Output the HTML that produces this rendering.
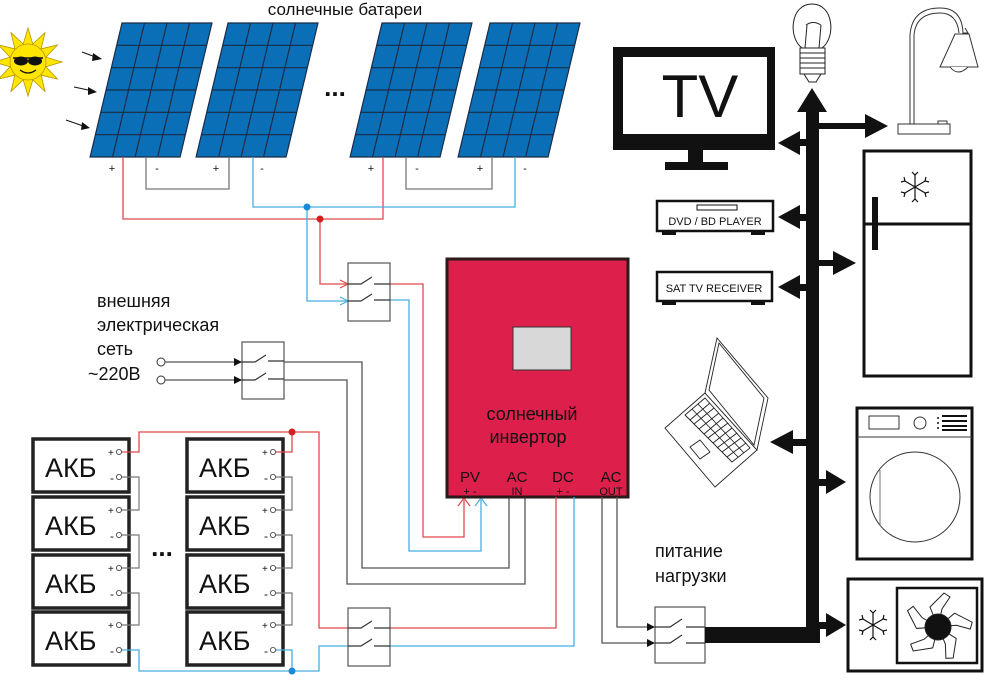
<!DOCTYPE html>
<html><head><meta charset="utf-8"><style>
html,body{margin:0;padding:0;background:#fff;}
svg{display:block;font-family:"Liberation Sans",sans-serif;}
</style></head><body>
<svg width="985" height="675" viewBox="0 0 985 675" xmlns="http://www.w3.org/2000/svg">
<defs>
<g id="panel">
 <rect x="0" y="0" width="90" height="134" fill="#0b6fb8" stroke="#1a2a44" stroke-width="1.2"/>
 <path d="M22.5 0V134M45 0V134M67.5 0V134M0 22.3H90M0 44.7H90M0 67H90M0 89.3H90M0 111.7H90" stroke="#1a2a44" stroke-width="1.2" fill="none"/>
</g>
<g id="akb">
 <rect x="0" y="0" width="96" height="53" fill="#fff" stroke="#222" stroke-width="3.5"/>
 <text x="12" y="38" font-size="27" fill="#111">АКБ</text>
 <text x="75" y="17" font-size="10" fill="#111">+</text>
 <text x="77" y="43" font-size="12" fill="#111">-</text>
 <circle cx="86" cy="13" r="2.6" fill="#fff" stroke="#333" stroke-width="0.8"/>
 <circle cx="86" cy="38" r="2.6" fill="#fff" stroke="#333" stroke-width="0.8"/>
</g>
<g id="flake" stroke="#111" stroke-width="1.2" fill="none">
 <path d="M0 -13V13M-11 -6.5L11 6.5M-11 6.5L11 -6.5"/>
 <path d="M-3 -15L0 -12L3 -15M-3 15L0 12L3 15M-14 -5L-10 -6L-11 -10M14 5L10 6L11 10M-14 5L-10 6L-11 10M14 -5L10 -6L11 -10"/>
</g>
</defs>

<!-- sun -->
<g transform="translate(28,62)">
 <g fill="#FFE600" stroke="#B89500" stroke-width="0.8">
  <polygon points="-6,-14 6,-14 0,-34"/>
  <polygon points="-6,-14 6,-14 0,-34" transform="rotate(30)"/>
  <polygon points="-6,-14 6,-14 0,-34" transform="rotate(60)"/>
  <polygon points="-6,-14 6,-14 0,-34" transform="rotate(90)"/>
  <polygon points="-6,-14 6,-14 0,-34" transform="rotate(120)"/>
  <polygon points="-6,-14 6,-14 0,-34" transform="rotate(150)"/>
  <polygon points="-6,-14 6,-14 0,-34" transform="rotate(180)"/>
  <polygon points="-6,-14 6,-14 0,-34" transform="rotate(210)"/>
  <polygon points="-6,-14 6,-14 0,-34" transform="rotate(240)"/>
  <polygon points="-6,-14 6,-14 0,-34" transform="rotate(270)"/>
  <polygon points="-6,-14 6,-14 0,-34" transform="rotate(300)"/>
  <polygon points="-6,-14 6,-14 0,-34" transform="rotate(330)"/>
  <circle r="18"/>
 </g>
 <path d="M-15 -4H15" stroke="#111" stroke-width="1.5"/>
 <ellipse cx="-7" cy="-1" rx="7" ry="4.5" fill="#111"/>
 <ellipse cx="7" cy="-1" rx="7" ry="4.5" fill="#111"/>
 <path d="M-8 8Q0 14 8 8" stroke="#111" stroke-width="1.3" fill="none"/>
</g>
<g stroke="#111" stroke-width="1">
 <path d="M82 52L98 58M74 87L93 91M66 120L86 127"/>
</g>
<g fill="#111">
 <polygon points="102,59 93,53 92,61"/>
 <polygon points="97,92 88,87 88,95"/>
 <polygon points="90,128 82,122 81,130"/>
</g>

<!-- panels -->
<use href="#panel" transform="translate(122,23) skewX(-13.4)"/>
<use href="#panel" transform="translate(228,23) skewX(-13.4)"/>
<use href="#panel" transform="translate(382,23) skewX(-13.4)"/>
<use href="#panel" transform="translate(490,23) skewX(-13.4)"/>
<text x="345" y="15" font-size="17" text-anchor="middle" fill="#111">солнечные батареи</text>
<text x="335" y="96" font-size="26" font-weight="bold" text-anchor="middle" fill="#111">...</text>
<g font-size="11" fill="#111" text-anchor="middle">
 <text x="112" y="172">+</text><text x="157" y="172">-</text>
 <text x="216" y="172">+</text><text x="262" y="172">-</text>
 <text x="371" y="172">+</text><text x="417" y="172">-</text>
 <text x="480" y="172">+</text><text x="525" y="172">-</text>
</g>
<g fill="none" stroke-width="1.3">
 <path d="M146 157V189H229V157M406 157V189H492V157" stroke="#777"/>
 <path d="M123 157V219H383V157" stroke="#e0484a"/>
 <path d="M253 157V207H515V157" stroke="#48aee0"/>
 <path d="M320 219V284H348M390 284H423V537H464V500" stroke="#e0484a"/>
 <path d="M307 207V301H348M390 300H409V551H481V500" stroke="#48aee0"/>
</g>
<circle cx="307" cy="207" r="3.5" fill="#1a8ad8"/>
<circle cx="320" cy="219" r="3.5" fill="#d42020"/>
<path d="M340 280L348 284L340 288" stroke="#e0484a" fill="none" stroke-width="1.2"/>
<path d="M340 297L348 301L340 305" stroke="#48aee0" fill="none" stroke-width="1.2"/>
<path d="M458 506L464 498L470 506" stroke="#e0484a" fill="none" stroke-width="1.2"/>
<path d="M475 506L481 498L487 506" stroke="#48aee0" fill="none" stroke-width="1.2"/>
<!-- switch 1 -->
<rect x="348" y="263" width="42" height="58" fill="#fff" stroke="#555" stroke-width="1.2"/>
<path d="M348 284H361L372 277M374 284H390M348 301H361L372 294M374 300H390" stroke="#333" fill="none" stroke-width="1.2"/>

<!-- external grid -->
<g font-size="18" fill="#111">
 <text x="97" y="307">внешняя</text>
 <text x="97" y="331">электрическая</text>
 <text x="97" y="355">сеть</text>
 <text x="88" y="380">~220В</text>
</g>
<circle cx="161" cy="362" r="4" fill="#fff" stroke="#333"/>
<circle cx="161" cy="380" r="4" fill="#fff" stroke="#333"/>
<path d="M165 362H242M165 380H242" stroke="#555" stroke-width="1.3"/>
<polygon points="242,362 234,358 234,366" fill="#111"/>
<polygon points="242,380 234,376 234,384" fill="#111"/>
<rect x="242" y="342" width="42" height="57" fill="#fff" stroke="#555" stroke-width="1.2"/>
<path d="M242 362H255L266 355M268 361H284M242 380H255L266 373M268 379H284" stroke="#333" fill="none" stroke-width="1.2"/>
<path d="M284 362H362V568H509V497M284 380H347V584H525V497" stroke="#555" fill="none" stroke-width="1.3"/>

<!-- inverter -->
<rect x="447" y="259" width="181" height="238" fill="#dc1f4b" stroke="#2a1a1a" stroke-width="3"/>
<rect x="513" y="327" width="58" height="43" fill="#d8d8d8" stroke="#333" stroke-width="1"/>
<text x="532" y="420" font-size="18" fill="#111" text-anchor="middle">солнечный</text>
<text x="528" y="443" font-size="18" fill="#111" text-anchor="middle">инвертор</text>
<g fill="#111" text-anchor="middle">
 <text x="470" y="482" font-size="15">PV</text>
 <text x="470" y="495" font-size="11">+  -</text>
 <text x="517" y="482" font-size="15">AC</text>
 <text x="517" y="495" font-size="11">IN</text>
 <text x="563" y="482" font-size="15">DC</text>
 <text x="563" y="495" font-size="11">+  -</text>
 <text x="611" y="482" font-size="15">AC</text>
 <text x="611" y="495" font-size="11">OUT</text>
</g>

<!-- batteries -->
<use href="#akb" x="33" y="439"/><use href="#akb" x="33" y="497"/><use href="#akb" x="33" y="555"/><use href="#akb" x="33" y="612"/>
<use href="#akb" x="187" y="439"/><use href="#akb" x="187" y="497"/><use href="#akb" x="187" y="555"/><use href="#akb" x="187" y="612"/>
<text x="162" y="556" font-size="26" font-weight="bold" text-anchor="middle" fill="#111">...</text>
<g fill="none" stroke="#777" stroke-width="1.2">
 <path d="M122 477H139V510H122M122 535H139V568H122M122 593H139V625H122"/>
 <path d="M276 477H292V510H276M276 535H292V568H276M276 593H292V625H276"/>
</g>
<g fill="none" stroke-width="1.3">
 <path d="M122 452H139V432H319V628H348M276 452H292V432" stroke="#e0484a"/>
 <path d="M390 628H556V497" stroke="#e0484a"/>
 <path d="M122 650H139V671H319V646H348M276 650H292V671" stroke="#48aee0"/>
 <path d="M390 646H574V497" stroke="#48aee0"/>
</g>
<circle cx="292" cy="432" r="3.5" fill="#d42020"/>
<circle cx="292" cy="671" r="3.5" fill="#1a8ad8"/>
<rect x="348" y="608" width="42" height="58" fill="#fff" stroke="#555" stroke-width="1.2"/>
<path d="M348 628H361L372 621M374 628H390M348 646H361L372 639M374 646H390" stroke="#333" fill="none" stroke-width="1.2"/>

<!-- load switch -->
<text x="655" y="557" font-size="18" fill="#111">питание</text>
<text x="655" y="582" font-size="18" fill="#111">нагрузки</text>
<path d="M617 497V627H655M602 497V643H655" stroke="#555" fill="none" stroke-width="1.3"/>
<polygon points="655,627 647,623 647,631" fill="#111"/>
<polygon points="655,643 647,639 647,647" fill="#111"/>
<rect x="655" y="607" width="50" height="56" fill="#fff" stroke="#555" stroke-width="1.2"/>
<path d="M655 627H670L682 619M686 627H705M655 643H670L682 635M686 643H705" stroke="#333" fill="none" stroke-width="1.2"/>
<!-- bus -->
<rect x="705" y="627" width="115" height="16" fill="#111"/>
<rect x="806" y="108" width="13" height="535" fill="#111"/>
<polygon points="812,88 797,112 827,112" fill="#111"/>
<g fill="#111">
 <rect x="795" y="139" width="12" height="7"/><polygon points="778,143 800,131 800,155"/>
 <rect x="818" y="123" width="48" height="6"/><polygon points="888,126 865,114 865,138"/>
 <rect x="795" y="214" width="12" height="7"/><polygon points="778,217 800,205 800,229"/>
 <rect x="818" y="260" width="18" height="6"/><polygon points="856,263 833,251 833,275"/>
 <rect x="795" y="284" width="12" height="7"/><polygon points="778,287 800,275 800,299"/>
 <rect x="790" y="439" width="17" height="7"/><polygon points="770,442 793,430 793,454"/>
 <rect x="818" y="479" width="10" height="7"/><polygon points="846,482 826,470 826,494"/>
 <rect x="818" y="622" width="10" height="7"/><polygon points="846,625 826,613 826,637"/>
</g>

<!-- TV -->
<rect x="613" y="47" width="162" height="103" fill="#111"/>
<rect x="623" y="57" width="144" height="77" fill="#fff"/>
<text x="700" y="117" font-size="60" fill="#111" text-anchor="middle">TV</text>
<rect x="688" y="150" width="15" height="12" fill="#111"/>
<rect x="665" y="162" width="63" height="8" fill="#111"/>

<!-- bulb -->
<g stroke="#222" stroke-width="1" fill="#fff">
 <path d="M802 48C788 38 790 4 812 4C834 4 836 38 822 48Z"/>
 <rect x="800" y="48" width="25" height="26"/>
 <path d="M800 53H825M800 58H825M800 63H825M800 68H825" fill="none"/>
 <path d="M804 74H821L816 82H809Z"/>
 <path d="M805 48L807 25M819 48L821 25M806 25Q813 20 821 25" fill="none"/>
</g>
<!-- lamp -->
<g stroke="#333" stroke-width="1" fill="#fff">
 <path d="M910 124V35Q912 8 940 8Q962 8 963 33L968 33 965 28" fill="none"/>
 <path d="M914 124V35Q916 13 940 13Q957 13 959 33" fill="none"/>
 <path d="M955 34L969 34L978 67H940Z"/>
 <path d="M950 67Q958 77 968 67"/>
 <rect x="898" y="124" width="52" height="10"/>
 <rect x="938" y="121" width="9" height="3"/>
</g>
<!-- DVD -->
<rect x="657" y="201" width="116" height="30" fill="#fff" stroke="#111" stroke-width="2.5"/>
<rect x="697" y="205" width="40" height="5" fill="#fff" stroke="#111" stroke-width="1"/>
<rect x="662" y="231" width="14" height="4" fill="#111"/><rect x="751" y="231" width="14" height="4" fill="#111"/>
<text x="715" y="225" font-size="11" fill="#111" text-anchor="middle">DVD / BD PLAYER</text>
<!-- SAT -->
<rect x="657" y="272" width="115" height="29" fill="#fff" stroke="#111" stroke-width="2.5"/>
<rect x="662" y="301" width="14" height="4" fill="#111"/><rect x="751" y="301" width="14" height="4" fill="#111"/>
<text x="714" y="292" font-size="11" fill="#111" text-anchor="middle">SAT TV RECEIVER</text>
<!-- fridge -->
<rect x="864" y="151" width="107" height="225" fill="#fff" stroke="#111" stroke-width="3"/>
<path d="M864 224H971" stroke="#111" stroke-width="3"/>
<rect x="872" y="197" width="6" height="53" fill="#111"/>
<use href="#flake" x="915" y="187"/>
<!-- laptop -->
<g stroke="#222" stroke-width="0.9" fill="#fff">
 <polygon points="705,393 665,428 715,487 757,450"/>
 <polygon points="705,393 717,338 768,398 757,450"/>
 <polygon points="709,390 719,343 764,398 754,445" fill="none"/>
 <polygon points="705,398 750,448 732,462 685,415"/>
 <path d="M698 404L744 453M692 409L738 457" fill="none"/>
 <path d="M710 403L690 420M714 408L694 424M719 413L699 429M723 418L704 434M728 423L708 438M732 428L713 443M737 433L717 448M741 438L722 452M746 443L727 457" fill="none"/>
 <polygon points="690,447 700,440 710,452 700,459"/>
</g>
<!-- washer -->
<rect x="857" y="408" width="115" height="151" fill="#fff" stroke="#111" stroke-width="3"/>
<path d="M857 437H972" stroke="#333" stroke-width="1"/>
<rect x="869" y="416" width="30" height="13" fill="#fff" stroke="#333"/>
<circle cx="920" cy="423" r="6" fill="#fff" stroke="#333"/>
<path d="M938 417V419M938 422V424M938 427V429" stroke="#111" stroke-width="1.5"/>
<path d="M942 416H967M942 421H967M942 426H967M942 430H967" stroke="#111" stroke-width="2"/>
<circle cx="915" cy="497" r="45" fill="#fff" stroke="#333" stroke-width="1"/>
<path d="M880 470V526" stroke="#777" stroke-width="1"/>
<!-- AC -->
<rect x="848" y="579" width="134" height="92" fill="#fff" stroke="#111" stroke-width="3"/>
<rect x="897" y="588" width="80" height="75" fill="#fff" stroke="#111" stroke-width="2.5"/>
<use href="#flake" x="873" y="625"/>
<g stroke="#222" stroke-width="1" fill="#fff" transform="translate(938,627)">
 <path d="M0 0L-8 -20L6 -34L12 -30L4 -18Z"/>
 <path d="M0 0L-8 -20L6 -34L12 -30L4 -18Z" transform="rotate(72)"/>
 <path d="M0 0L-8 -20L6 -34L12 -30L4 -18Z" transform="rotate(144)"/>
 <path d="M0 0L-8 -20L6 -34L12 -30L4 -18Z" transform="rotate(216)"/>
 <path d="M0 0L-8 -20L6 -34L12 -30L4 -18Z" transform="rotate(288)"/>
 <circle r="13" fill="#111"/>
</g>
</svg>
</body></html>
